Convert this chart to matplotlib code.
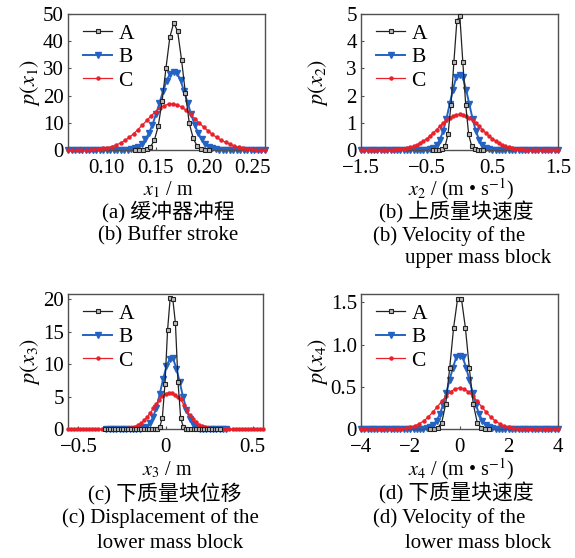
import matplotlib
matplotlib.use("Agg")
import matplotlib.pyplot as plt
import numpy as np

plt.rcParams["font.family"] = ["Liberation Serif", "Noto Sans CJK SC"]
plt.rcParams["mathtext.fontset"] = "stix"

W, H = 575, 558
RED = "#e8212b"
BLUE = "#2463c4"
FRAME = "#505050"

# ---- (a) buffer stroke x1 ----
a_xa = (0.1287, 0.2047)
a_ya = [0, 0.01, 0.07, 0.31, 1.16, 3.5, 8.7, 17.9, 30.1, 41.5,
        46.8, 43.6, 33.2, 20.8, 9.8, 4.3, 1.5, 0.42, 0.1, 0.02]
a_xb = (0.06, 0.2625)
a_yb = [0] * 13 + [0.005, 0.01, 0.03, 0.06, 0.15, 0.32, 0.66, 1.27, 2.29, 3.88,
                   6.19, 9.29, 13.08, 17.30, 21.52, 25.4, 28.0, 28.5, 28.3, 25.6,
                   21.57, 17.34, 13.12, 9.32, 6.23, 3.90, 2.30, 1.28, 0.66, 0.33,
                   0.15, 0.06, 0.03, 0.01] + [0] * 10
a_xc = (0.06, 0.2625)
a_yc = [0.007, 0.01, 0.025, 0.045, 0.08, 0.13, 0.22, 0.36, 0.56, 0.86,
        1.27, 1.83, 2.57, 3.50, 4.64, 5.99, 7.52, 9.17, 10.88, 12.56,
        14.11, 15.40, 16.36, 16.90, 16.97, 16.59, 15.76, 14.57, 13.10, 11.45,
        9.9, 8.4, 7.0, 5.7, 4.6, 3.6, 2.8, 2.1, 1.5, 1.05,
        0.7, 0.45, 0.28, 0.16, 0.08, 0.04]

# ---- (b) upper mass block velocity x2 ----
b_xa = (-0.40, 0.365)
b_ya = [0, 0, 0, 0.02, 0.14, 0.57, 1.65, 3.25, 4.75,
        4.93, 3.25, 1.65, 0.57, 0.14, 0.02, 0, 0, 0]
b_xb = (-1.5, 1.5)
b_yb = [0] * 19 + [0.003, 0.011, 0.031, 0.079, 0.18, 0.375, 0.69, 1.14, 1.68, 2.22,
                   2.68, 2.77, 2.68, 2.22, 1.68, 1.14, 0.69, 0.375, 0.18, 0.079,
                   0.031, 0.011, 0.003] + [0] * 19
b_xc = (-1.5, 1.5)
b_yc = [0] * 7 + [0.003, 0.005, 0.008, 0.013, 0.021, 0.032, 0.048, 0.069, 0.099, 0.138,
                  0.188, 0.251, 0.327, 0.416, 0.517, 0.628, 0.746, 0.867, 0.983, 1.090,
                  1.182, 1.251, 1.295, 1.31, 1.295, 1.251, 1.182, 1.090, 0.983, 0.867,
                  0.746, 0.628, 0.517, 0.416, 0.327, 0.251, 0.188, 0.138, 0.099, 0.069,
                  0.048, 0.032, 0.021, 0.013, 0.008, 0.005, 0.003] + [0] * 7

# ---- (c) lower mass block displacement x3 ----
c_xa = (-0.348, 0.312)
c_ya = [0] * 20 + [0.05, 0.35, 1.8, 7.0, 15.3, 20.2, 20.0, 16.3, 7.2, 1.8,
                   0.35, 0.05] + [0] * 13
c_xb = (-0.34, 0.35)
c_yb = [0] * 9 + [0.02, 0.05, 0.15, 0.39, 0.90, 1.84, 3.35, 5.39, 7.67, 9.66,
                  10.8, 10.9, 9.34, 7.25, 4.98, 3.03, 1.63, 0.78, 0.33, 0.12,
                  0.04, 0.01] + [0] * 6
c_xc = (-0.56, 0.56)
c_yc = [0] * 16 + [0.01, 0.02, 0.04, 0.08, 0.14, 0.25, 0.40, 0.63, 0.95, 1.37,
                   1.90, 2.52, 3.20, 3.89, 4.54, 5.08, 5.45, 5.6, 5.51, 5.21,
                   4.9, 4.6, 3.8, 2.9, 2.15, 1.51, 1.06, 0.71, 0.46, 0.28,
                   0.17, 0.10, 0.05, 0.03, 0.01] + [0] * 14

# ---- (d) lower mass block velocity x4 ----
d_xa = (-1.2, 1.2)
d_ya = [0, 0.005, 0.02, 0.08, 0.30, 0.72, 1.20, 1.54,
        1.54, 1.20, 0.72, 0.30, 0.08, 0.02, 0.005, 0]
d_xb = (-4, 4)
d_yb = [0] * 18 + [0.002, 0.004, 0.011, 0.025, 0.052, 0.101, 0.179, 0.290, 0.431, 0.586,
                   0.730, 0.85, 0.87, 0.85, 0.730, 0.586, 0.431, 0.290, 0.179, 0.101,
                   0.052, 0.025, 0.011, 0.004, 0.002] + [0] * 18
d_xc = (-4, 4)
d_yc = [0] * 7 + [0.002, 0.004, 0.007, 0.013, 0.024, 0.040, 0.065, 0.099, 0.144, 0.200,
                  0.263, 0.329, 0.391, 0.443, 0.478, 0.49, 0.478, 0.443, 0.391, 0.329,
                  0.263, 0.200, 0.144, 0.099, 0.065, 0.040, 0.024, 0.013, 0.007, 0.004,
                  0.002] + [0] * 7

# axis settings per panel
xlims = [(0.06, 0.2625), (-1.5, 1.5), (-0.56, 0.56), (-4, 4)]
ylims = [(0, 50), (0, 5), (0, 20.8), (0, 1.6)]
xticks = [[0.10, 0.15, 0.20, 0.25], [-1.5, -0.5, 0.5, 1.5], [-0.5, 0, 0.5], [-4, -2, 0, 2, 4]]
xticklabels = [["0.10", "0.15", "0.20", "0.25"], ["\u22121.5", "\u22120.5", "0.5", "1.5"],
               ["\u22120.5", "0", "0.5"], ["\u22124", "\u22122", "0", "2", "4"]]
yticks = [[0, 10, 20, 30, 40, 50], [0, 1, 2, 3, 4, 5], [0, 5, 10, 15, 20], [0, 0.5, 1.0, 1.5]]
yticklabels = [["0", "10", "20", "30", "40", "50"], ["0", "1", "2", "3", "4", "5"],
               ["0", "5", "10", "15", "20"], ["0", "0.5", "1.0", "1.5"]]
ylabels = ["$p(x_1)$", "$p(x_2)$", "$p(x_3)$", "$p(x_4)$"]
xlabels = ["$x_1$ / m", "$x_2$ / (m \u2022 s$^{-1}$)", "$x_3$ / m", "$x_4$ / (m \u2022 s$^{-1}$)"]

# axes boxes in pixels: left, top, right, bottom
boxes = [(68, 14, 265, 150), (361, 14, 558, 150), (68, 294, 263, 429.3), (361, 294, 558, 429.3)]
ylabel_x = [30, 318, 30, 318]
xlabel_base = [195, 195, 475, 475]

series = [
    (a_xa, a_ya, a_xb, a_yb, a_xc, a_yc),
    (b_xa, b_ya, b_xb, b_yb, b_xc, b_yc),
    (c_xa, c_ya, c_xb, c_yb, c_xc, c_yc),
    (d_xa, d_ya, d_xb, d_yb, d_xc, d_yc),
]

fig = plt.figure(figsize=(W / 100, H / 100), dpi=100)


def fx(px):
    return px / W


def fy(py):
    return 1 - py / H


for i, (box, s) in enumerate(zip(boxes, series)):
    l, t, r, b = box
    ax = fig.add_axes([fx(l), fy(b), (r - l) / W, (b - t) / H])
    xa, ya, xb, yb, xc, yc = s
    lb, = ax.plot(np.linspace(*xb, len(yb)), yb, color=BLUE, marker="v", ms=3.8,
                  lw=1.4, zorder=2, clip_on=False)
    lc, = ax.plot(np.linspace(*xc, len(yc)), yc, color=RED, marker="o", ms=2.2,
                  lw=0.9, zorder=3, clip_on=False)
    la, = ax.plot(np.linspace(*xa, len(ya)), ya, color="#222222", marker="s", ms=3.1,
                  mfc="#bbbbbb", mec="#222222", mew=0.8, lw=0.9, zorder=4, clip_on=False)
    ax.set_xlim(*xlims[i])
    ax.set_ylim(*ylims[i])
    ax.set_xticks(xticks[i])
    ax.set_xticklabels(xticklabels[i])
    ax.set_yticks(yticks[i])
    ax.set_yticklabels(yticklabels[i])
    ax.tick_params(direction="in", length=2.5, width=0.8, color=FRAME, labelsize=15)
    ax.tick_params(axis="x", pad=6.5)
    ax.tick_params(axis="y", pad=3)
    for sp in ax.spines.values():
        sp.set_color(FRAME)
        sp.set_linewidth(1.0)
    ax.legend([la, lb, lc], ["A", "B", "C"], loc="upper left", frameon=False,
              bbox_to_anchor=(0.0, 1.04),
              fontsize=15.5, handlelength=1.35, handletextpad=0.3, labelspacing=0.16,
              borderaxespad=0.3, borderpad=0.4)

    cx = (l + r) / 2 + 2
    fig.text(fx(cx), fy(xlabel_base[i]), xlabels[i], ha="center", va="baseline",
             fontsize=14.5)
    fig.text(fx(ylabel_x[i]), fy((t + b) / 2), ylabels[i], ha="center", va="center",
             rotation=90, fontsize=16)

# captions
cap = dict(fontsize=15, va="center")
fig.text(fx(168), fy(212), "(a) 缓冲器冲程", ha="center", **cap)
fig.text(fx(168), fy(236), "(b) Buffer stroke", ha="center", **cap)
fig.text(fx(456), fy(212), "(b) 上质量块速度", ha="center", **cap)
fig.text(fx(373), fy(236), "(b) Velocity of the", ha="left", **cap)
fig.text(fx(405), fy(259), "upper mass block", ha="left", **cap)

fig.text(fx(165), fy(493), "(c) 下质量块位移", ha="center", **cap)
fig.text(fx(62), fy(518), "(c) Displacement of the", ha="left", **cap)
fig.text(fx(97), fy(543), "lower mass block", ha="left", **cap)
fig.text(fx(456), fy(493), "(d) 下质量块速度", ha="center", **cap)
fig.text(fx(373), fy(518), "(d) Velocity of the", ha="left", **cap)
fig.text(fx(405), fy(543), "lower mass block", ha="left", **cap)

fig.savefig("out.png", dpi=100)
